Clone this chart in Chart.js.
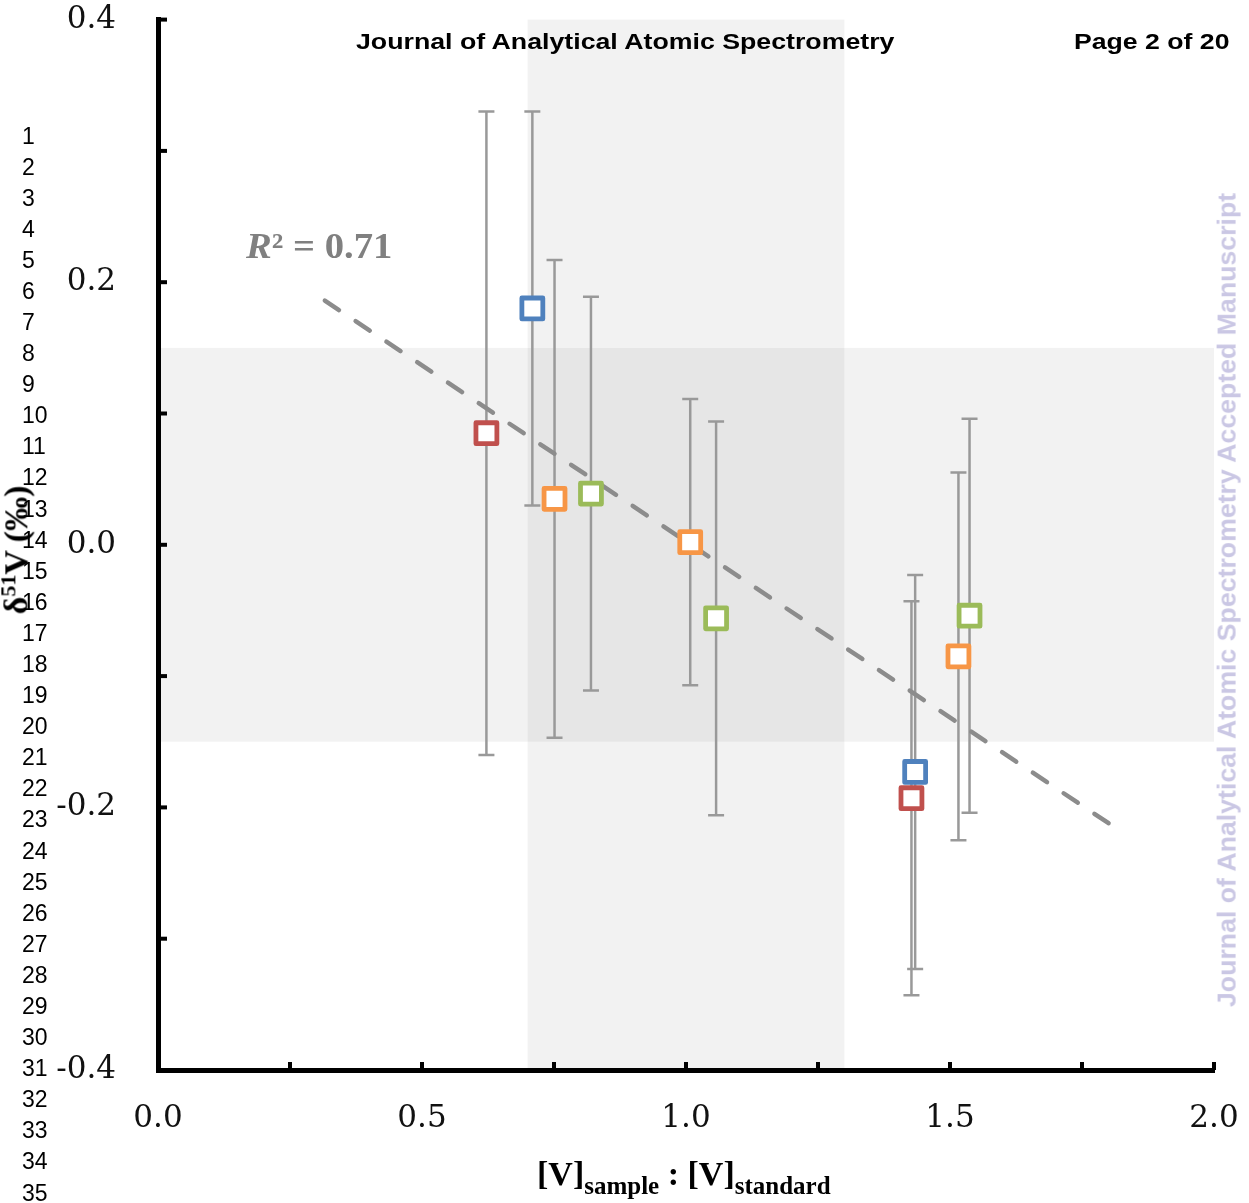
<!DOCTYPE html>
<html>
<head>
<meta charset="utf-8">
<script src="https://cdn.jsdelivr.net/npm/chart.js@4.4.1/dist/chart.umd.min.js"></script>
<style>
  body { margin: 0; background: #fff; }
  #wrap { position: relative; width: 1249px; height: 1203px; overflow: hidden; background: #fff; }
  #chart { position: absolute; left: 0; top: 0; }
  .abs { position: absolute; white-space: nowrap; }
  #header, #page { font: bold 22px "Liberation Sans", Arial, sans-serif; line-height: 22px; color: #000; top: 31px; transform-origin: 0 50%; }
  #header { left: 356px; }
  #page { left: 1074px; }
  .ln { position: absolute; left: 22px; font: 23px "Liberation Sans", Arial, sans-serif; line-height: 23px; color: #000; }
  #watermark { font: bold 26px "Liberation Sans Narrow", "Liberation Sans", Arial, sans-serif; line-height: 26px; color: #cac7e4; }
  #r2 { left: 246px; top: 228px; font: bold 36px "Liberation Serif", serif; line-height: 36px; color: #808080; transform-origin: 0 50%; }
  #xTitle { top: 1157px; font: bold 34px "Liberation Serif", serif; line-height: 34px; color: #000; }
  #xTitle .sub { font-size: 25px; position: relative; top: 9px; }
  #yTitle { font: bold 34px "Liberation Serif", serif; line-height: 34px; color: #000; }
  #yTitle sup { font-size: 22px; vertical-align: 0; position: relative; top: -12px; }
</style>
</head>
<body>
<div id="wrap">
  <canvas id="chart" width="1249" height="1203"></canvas>
  <div id="lineNums"></div>
  <div id="header" class="abs">Journal of Analytical Atomic Spectrometry</div>
  <div id="page" class="abs">Page 2 of 20</div>
  <div id="watermark" class="abs">Journal of Analytical Atomic Spectrometry Accepted Manuscript</div>
  <div id="r2" class="abs"><i>R</i>² = 0.71</div>
  <div id="xTitle" class="abs">[V]<span class="sub">sample</span> : [V]<span class="sub">standard</span></div>
  <div id="yTitle" class="abs">δ<sup>51</sup>V (‰)</div>
</div>
<script>
// --- Data ---
const blueX = [0.709, 1.434];
const blueY = [0.180, -0.173];
const blueErr = [0.150, 0.150];

const redX = [0.622, 1.427];
const redY = [0.085, -0.193];
const redErr = [0.245, 0.150];

const orangeX = [0.751, 1.008, 1.516];
const orangeY = [0.035, 0.002, -0.085];
const orangeErr = [0.182, 0.109, 0.140];

const greenX = [0.820, 1.057, 1.537];
const greenY = [0.039, -0.056, -0.054];
const greenErr = [0.150, 0.150, 0.150];

// regression line end points
const trendX = [0.316, 1.83];
const trendY = [0.186, -0.220];

// shaded ranges
const shadeX = [0.7, 1.3];
const shadeY = [-0.15, 0.15];

const xTickLabels = ['0.0', '0.5', '1.0', '1.5', '2.0'];
const yTickLabels = ['-0.4', '-0.2', '0.0', '0.2', '0.4'];

const lineCount = 35;

// --- Helpers ---
function points(xs, ys, errs) {
    return xs.map((x, i) => ({ x: x, y: ys[i], err: errs ? errs[i] : 0 }));
}
function fmt(v) {
    return (Math.abs(v) < 1e-9 ? 0 : v).toFixed(1);
}
function markerSet(label, color, xs, ys, errs) {
    return {
        label: label,
        data: points(xs, ys, errs),
        pointStyle: 'rect',
        pointRadius: 14.8,
        pointBorderWidth: 4.8,
        pointBorderColor: color,
        pointBackgroundColor: '#fff',
        showLine: false
    };
}

// shaded bands behind everything
const bandPlugin = {
    id: 'bands',
    beforeDraw(chart) {
        const { ctx, chartArea: a, scales: { x, y } } = chart;
        ctx.save();
        ctx.fillStyle = 'rgba(0,0,0,0.05)';
        const x0 = x.getPixelForValue(shadeX[0]), x1 = x.getPixelForValue(shadeX[1]);
        ctx.fillRect(x0, a.top, x1 - x0, a.bottom - a.top);
        const y0 = y.getPixelForValue(shadeY[1]), y1 = y.getPixelForValue(shadeY[0]);
        ctx.fillRect(a.left, y0, a.right - a.left, y1 - y0);
        ctx.restore();
    }
};

// vertical error bars with caps
const errorBarPlugin = {
    id: 'errorBars',
    beforeDatasetsDraw(chart) {
        const { ctx, scales: { x, y } } = chart;
        ctx.save();
        ctx.strokeStyle = '#999';
        ctx.lineWidth = 2.5;
        chart.data.datasets.forEach(ds => {
            ds.data.forEach(p => {
                if (!p.err) return;
                const px = x.getPixelForValue(p.x);
                const top = y.getPixelForValue(p.y + p.err);
                const bot = y.getPixelForValue(p.y - p.err);
                ctx.beginPath();
                ctx.moveTo(px, top); ctx.lineTo(px, bot);
                ctx.moveTo(px - 8, top); ctx.lineTo(px + 8, top);
                ctx.moveTo(px - 8, bot); ctx.lineTo(px + 8, bot);
                ctx.stroke();
            });
        });
        ctx.restore();
        ctx.lineJoin = 'round';
    }
};

// inward tick marks
const tickPlugin = {
    id: 'tickMarks',
    afterDraw(chart) {
        const { ctx, chartArea: a, scales: { x, y } } = chart;
        ctx.save();
        ctx.strokeStyle = '#000';
        ctx.lineWidth = 4;
        y.ticks.forEach(t => {
            const py = y.getPixelForValue(t.value);
            ctx.beginPath(); ctx.moveTo(a.left, py); ctx.lineTo(a.left + 9, py); ctx.stroke();
        });
        x.ticks.forEach(t => {
            const px = x.getPixelForValue(t.value);
            ctx.beginPath(); ctx.moveTo(px, a.bottom); ctx.lineTo(px, a.bottom - 8); ctx.stroke();
        });
        ctx.restore();
    }
};

const tickFont = { family: 'DejaVu Serif', size: 31 };

new Chart(document.getElementById('chart'), {
    type: 'scatter',
    data: {
        datasets: [
            markerSet('blue', '#4f81bd', blueX, blueY, blueErr),
            markerSet('red', '#c0504d', redX, redY, redErr),
            markerSet('orange', '#f79646', orangeX, orangeY, orangeErr),
            markerSet('green', '#9bbb59', greenX, greenY, greenErr),
            {
                label: 'trend',
                data: points(trendX, trendY),
                showLine: true,
                borderColor: '#8c8c8c',
                borderWidth: 4.5,
                borderDash: [17, 20],
                borderCapStyle: 'round',
                pointRadius: 0
            }
        ]
    },
    options: {
        responsive: false,
        animation: false,
        events: [],
        layout: { padding: { top: 12, right: 35, left: 0, bottom: 0 } },
        plugins: { legend: { display: false }, tooltip: { enabled: false } },
        scales: {
            x: {
                type: 'linear', min: 0, max: 2,
                grid: { display: false, drawTicks: false },
                border: { color: '#000', width: 5 },
                ticks: {
                    stepSize: 0.25, autoSkip: false, maxRotation: 0, padding: 30,
                    color: '#111', font: tickFont,
                    callback: v => xTickLabels.includes(fmt(v)) && Math.abs(v * 2 - Math.round(v * 2)) < 1e-9 ? fmt(v) : ''
                },
                afterFit: s => { s.height = 133; s.paddingLeft = 0; s.paddingRight = 0; }
            },
            y: {
                type: 'linear', min: -0.4, max: 0.4,
                grid: { display: false, drawTicks: false },
                border: { color: '#000', width: 5 },
                ticks: {
                    stepSize: 0.1, autoSkip: false, padding: 42,
                    color: '#111', font: tickFont,
                    callback: v => yTickLabels.includes(fmt(v)) ? fmt(v) : ''
                },
                afterFit: s => { s.width = 158; s.paddingTop = 0; s.paddingBottom = 0; }
            }
        }
    },
    plugins: [bandPlugin, errorBarPlugin, tickPlugin]
});

// --- Page furniture ---
const lineNums = document.getElementById('lineNums');
for (let i = 1; i <= lineCount; i++) {
    const d = document.createElement('div');
    d.className = 'ln';
    d.textContent = i;
    d.style.top = (136 + (i - 1) * 31.09 - 11.5) + 'px';
    lineNums.appendChild(d);
}

function fitWidth(el, w) {
    el.style.transform = 'scaleX(' + (w / el.offsetWidth) + ')';
}
fitWidth(document.getElementById('header'), 538);
fitWidth(document.getElementById('page'), 155);
fitWidth(document.getElementById('r2'), 146);

const xt = document.getElementById('xTitle');
xt.style.left = (684 - xt.offsetWidth / 2) + 'px';

const yt = document.getElementById('yTitle');
yt.style.left = (18 - yt.offsetWidth / 2) + 'px';
yt.style.top = (550 - yt.offsetHeight / 2) + 'px';
yt.style.transform = 'rotate(-90deg)';

const wm = document.getElementById('watermark');
const wmW = wm.offsetWidth, wmH = wm.offsetHeight;
wm.style.left = (1226 - wmW / 2) + 'px';
wm.style.top = (600 - wmH / 2) + 'px';
wm.style.transform = 'rotate(-90deg) scaleX(' + (814 / wmW) + ')';
</script>
</body>
</html>
